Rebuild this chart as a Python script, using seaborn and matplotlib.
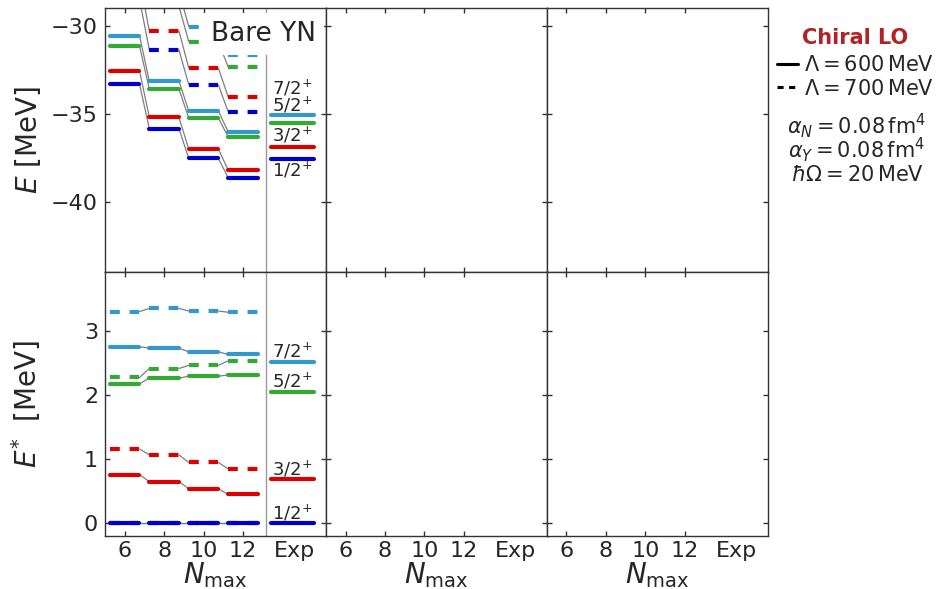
import matplotlib
matplotlib.use("Agg")
import matplotlib.pyplot as plt
from matplotlib.lines import Line2D
import pandas as pd
import seaborn as sns

# ---------------------------------------------------------------------------
# Data: Lambda-7Li levels from the NCSM, bare YN interaction
# ---------------------------------------------------------------------------
nmax = [6, 8, 10, 12]
states = ["1/2+", "3/2+", "5/2+", "7/2+"]
state_tex = [r"$1/2^{+}$", r"$3/2^{+}$", r"$5/2^{+}$", r"$7/2^{+}$"]
state_colors = ["#0000cc", "#dd0000", "#33aa33", "#3399cc"]
cutoffs = ["600", "700"]

# total energies E [MeV], cutoff 600 MeV
etot_600_12 = [-33.32, -35.85, -37.55, -38.64]
etot_600_32 = [-32.56, -35.21, -37.02, -38.21]
etot_600_52 = [-31.15, -33.60, -35.25, -36.32]
etot_600_72 = [-30.57, -33.15, -34.85, -36.04]
# total energies E [MeV], cutoff 700 MeV
etot_700_12 = [-28.50, -31.38, -33.36, -34.91]
etot_700_32 = [-27.34, -30.30, -32.41, -34.06]
etot_700_52 = [-26.22, -28.90, -30.92, -32.36]
etot_700_72 = [-25.19, -28.02, -30.06, -31.66]

# excitation energies E* [MeV], cutoff 600 MeV
eexc_600_12 = [0.00, 0.00, 0.00, 0.00]
eexc_600_32 = [0.76, 0.65, 0.54, 0.45]
eexc_600_52 = [2.18, 2.27, 2.30, 2.32]
eexc_600_72 = [2.76, 2.74, 2.68, 2.64]
# excitation energies E* [MeV], cutoff 700 MeV
eexc_700_12 = [0.00, 0.00, 0.00, 0.00]
eexc_700_32 = [1.16, 1.07, 0.95, 0.85]
eexc_700_52 = [2.28, 2.42, 2.47, 2.54]
eexc_700_72 = [3.31, 3.36, 3.32, 3.30]

# experiment
exp_tot = [-37.60, -36.89, -35.55, -35.08]
exp_exc = [0.00, 0.69, 2.05, 2.52]

# x tick labels
xtick_labels = ["6", "8", "10", "12", "Exp"]

# ---------------------------------------------------------------------------
# Layout constants
# ---------------------------------------------------------------------------
HALF = 0.75          # half width of a calculated level
EXP_X = 14.5         # centre of the experimental levels
EXP_TICK = 14.6      # position of the "Exp" tick label
EXP_HALF = 1.1
SEP_X = 13.15
label_y_top = [-38.21, -36.23, -34.53, -33.57]
label_y_bot = [0.157, 0.855, 2.23, 2.70]

tot = {"600": [etot_600_12, etot_600_32, etot_600_52, etot_600_72],
       "700": [etot_700_12, etot_700_32, etot_700_52, etot_700_72]}
exc = {"600": [eexc_600_12, eexc_600_32, eexc_600_52, eexc_600_72],
       "700": [eexc_700_12, eexc_700_32, eexc_700_52, eexc_700_72]}


def level_frames(table):
    lev, con = [], []
    for cut in cutoffs:
        for st, vals in zip(states, table[cut]):
            for n, v in zip(nmax, vals):
                key = f"{cut}-{st}-{n}"
                lev.append(dict(x=n - HALF, E=v, state=st, cutoff=cut, seg=key))
                lev.append(dict(x=n + HALF, E=v, state=st, cutoff=cut, seg=key))
            for (n0, v0), (n1, v1) in zip(zip(nmax[:-1], vals[:-1]),
                                          zip(nmax[1:], vals[1:])):
                key = f"{cut}-{st}-{n0}-{n1}"
                con.append(dict(x=n0 + HALF, E=v0, seg=key))
                con.append(dict(x=n1 - HALF, E=v1, seg=key))
    return pd.DataFrame(lev), pd.DataFrame(con)


def exp_frame(vals):
    rows = []
    for st, v in zip(states, vals):
        rows.append(dict(x=EXP_X - EXP_HALF, E=v, state=st, seg=st))
        rows.append(dict(x=EXP_X + EXP_HALF, E=v, state=st, seg=st))
    return pd.DataFrame(rows)


sns.set_style("ticks")
plt.rcParams["font.family"] = ["DejaVu Sans"]
plt.rcParams["mathtext.fontset"] = "dejavusans"
plt.rcParams["lines.dash_capstyle"] = "butt"

fig, axes = plt.subplots(2, 3, figsize=(9.38, 5.89), dpi=100)
fig.subplots_adjust(left=0.1119, right=0.8183, top=0.9864, bottom=0.0900,
                    wspace=0, hspace=0)

palette = dict(zip(states, state_colors))
dash_map = {"600": "", "700": (2.35, 2.35)}

for row, (table, exp_vals, lab_y) in enumerate(
        [(tot, exp_tot, label_y_top), (exc, exp_exc, label_y_bot)]):
    ax = axes[row, 0]
    lev, con = level_frames(table)
    sns.lineplot(data=con, x="x", y="E", units="seg", estimator=None,
                 color="#7f7f7f", lw=0.9, sort=False, legend=False, ax=ax,
                 zorder=1.6)
    sns.lineplot(data=lev, x="x", y="E", hue="state", style="cutoff",
                 units="seg", estimator=None, palette=palette,
                 dashes=dash_map, lw=3, sort=False, legend=False, ax=ax,
                 zorder=1.8, dash_capstyle="butt")
    sns.lineplot(data=exp_frame(exp_vals), x="x", y="E", hue="state",
                 units="seg", estimator=None, palette=palette, lw=3,
                 sort=False, legend=False, ax=ax, zorder=1.8)
    ax.axvline(SEP_X, color="#9a9a9a", lw=1.0, zorder=1.5)
    for txt, y in zip(state_tex, lab_y):
        ax.text(SEP_X + 0.3, y, txt, ha="left", va="center", fontsize=13,
                zorder=2.0)

axes[0, 0].text(0.955, 0.876, "Bare YN", transform=axes[0, 0].transAxes,
                ha="right", va="baseline", fontsize=19, zorder=2.2,
                bbox=dict(boxstyle="square,pad=0.3", fc="white", ec="none"))

for r in range(2):
    for c in range(3):
        ax = axes[r, c]
        ax.set_xlim(5.0, 16.2)
        if r == 0:
            ax.set_ylim(-44.0, -29.0)
            ax.set_yticks([-30, -35, -40])
        else:
            ax.set_ylim(-0.2, 3.93)
            ax.set_yticks([0, 1, 2, 3])
        ax.set_xticks(nmax + [EXP_TICK])
        ax.set_xticklabels(xtick_labels)
        ax.tick_params(direction="in", top=True, right=True, length=3.6,
                       width=1.0, labelsize=16, pad=5, color="#333333")
        ax.tick_params(axis="x", pad=3.5)
        for t in ax.xaxis.get_major_ticks()[-1:]:
            t.tick1line.set_visible(False)
            t.tick2line.set_visible(False)
        for sp in ax.spines.values():
            sp.set_linewidth(1.0)
            sp.set_color("#333333")
        ax.set_xlabel("")
        ax.set_ylabel("")
        if r == 0:
            ax.tick_params(labelbottom=False)
        else:
            ax.set_xlabel(r"$N_{\mathrm{max}}$", fontsize=20, labelpad=-0.5)
        if c > 0:
            ax.tick_params(labelleft=False)

axes[0, 0].set_ylabel(r"$E$ [MeV]", fontsize=20)
axes[1, 0].set_ylabel(r"$E^{*}\;$ [MeV]", fontsize=20)
for ax in axes[:, 0]:
    ax.yaxis.set_label_coords(-0.28, 0.5)

# right-hand annotation: interaction and model-space parameters
fig.text(855.5 / 938, 1 - 38 / 589, "Chiral LO", ha="center", va="center",
         fontsize=15, fontweight="bold", color="#b22222")
handles = [Line2D([], [], color="black", lw=2.2),
           Line2D([], [], color="black", lw=2.2, dashes=(2.0, 1.8))]
fig.legend(handles, [r"$\Lambda = 600\,\mathrm{MeV}$",
                     r"$\Lambda = 700\,\mathrm{MeV}$"],
           loc="center", bbox_to_anchor=(856 / 938, 1 - 77 / 589),
           frameon=False, fontsize=15, handlelength=1.0, handletextpad=0.3,
           labelspacing=0.15, borderpad=0.2)
params = [r"$\alpha_N = 0.08\,\mathrm{fm}^4$",
          r"$\alpha_Y = 0.08\,\mathrm{fm}^4$",
          r"$\hbar\Omega = 20\,\mathrm{MeV}$"]
for txt, ypx in zip(params, [126, 150, 175]):
    fig.text(857 / 938, 1 - ypx / 589, txt, ha="center", va="center",
             fontsize=15)

fig.savefig("out.png", dpi=100)
